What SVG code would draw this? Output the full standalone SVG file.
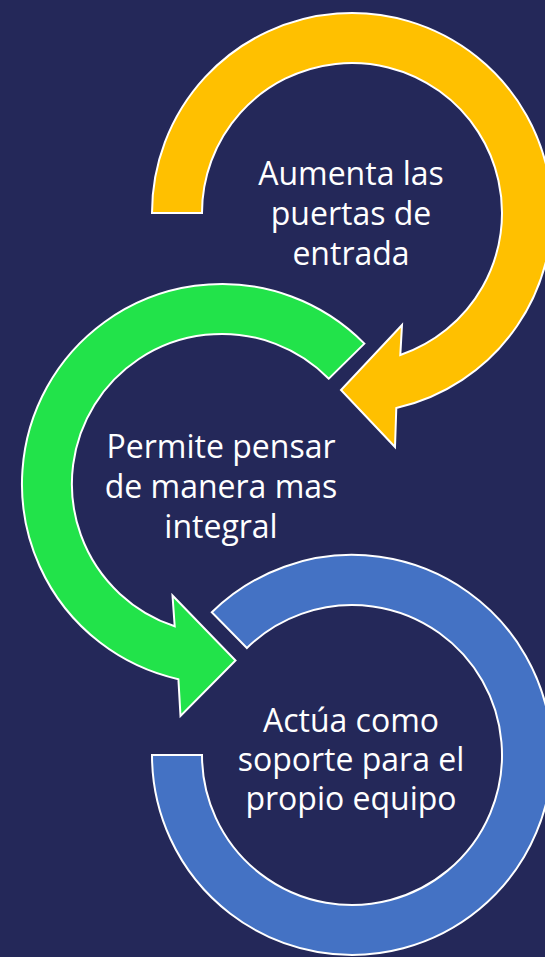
<svg xmlns="http://www.w3.org/2000/svg" width="545" height="957" viewBox="0 0 545 957">
<style>
.arc{stroke:#ffffff;stroke-width:2;stroke-linejoin:miter}
.lbl{font-family:"Open Sans","Liberation Sans",sans-serif;font-size:32px;fill:#ffffff;text-anchor:middle}
</style>
<rect width="545" height="957" fill="#242859"/>
<g id="connectors"/>
<g id="node-yellow">
<path class="arc" fill="#FFC000" d="M152,213 A200,200 0 1 1 396.3,408 L395,447 L341,390 L402,325 L400.3,355 A150,150 0 1 0 202,213 Z"/>
<text class="lbl" x="351" y="185">Aumenta las</text>
<text class="lbl" x="351" y="225">puertas de</text>
<text class="lbl" x="351" y="265">entrada</text>
</g>
<g id="node-green">
<path class="arc" fill="#22E34A" d="M364.4,343.6 A200,200 0 1 0 178.4,679.2 L180.5,716 L235.5,660.5 L172.5,595.5 L174.7,626.3 A150,150 0 1 1 328.8,378.7 Z"/>
<text class="lbl" x="221" y="458">Permite pensar</text>
<text class="lbl" x="221" y="498">de manera mas</text>
<text class="lbl" x="221" y="538">integral</text>
</g>
<g id="node-blue">
<path class="arc" fill="#4472C4" d="M211.8,612.3 A200,200 0 1 1 152,755 L202,755 A150,150 0 1 0 246.9,648 Z"/>
<text class="lbl" x="351" y="732">Actúa como</text>
<text class="lbl" x="351" y="771">soporte para el</text>
<text class="lbl" x="351" y="810">propio equipo</text>
</g>
</svg>
